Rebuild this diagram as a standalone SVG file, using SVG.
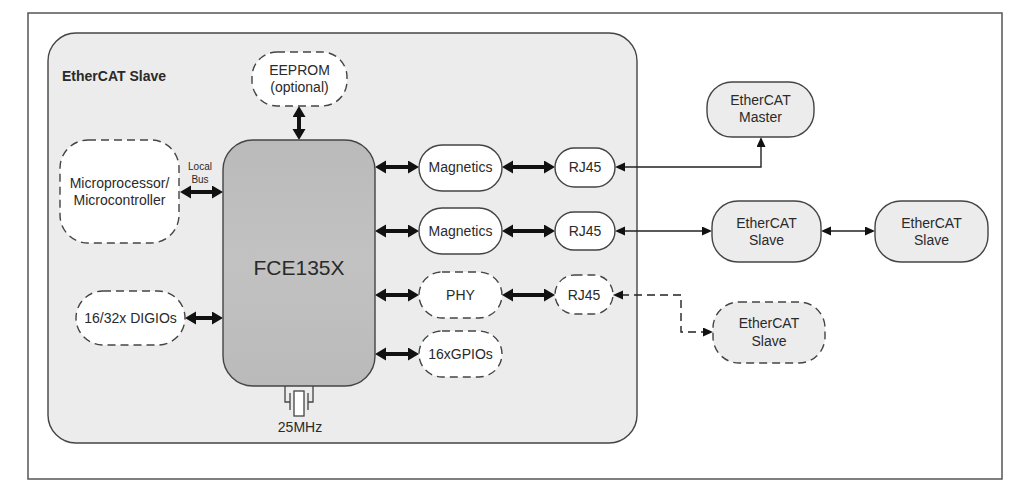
<svg xmlns="http://www.w3.org/2000/svg" width="1030" height="493" viewBox="0 0 1030 493">
<defs>
<style>
text{font-family:"Liberation Sans",Arial,sans-serif;fill:#2a2a2a;text-anchor:middle;font-size:14px}
.solid{fill:#fff;stroke:#444;stroke-width:1.4}
.dash{fill:#fff;stroke:#444;stroke-width:1.4;stroke-dasharray:8 5}
.ext{fill:#ececec;stroke:#444;stroke-width:1.4}
.thick{stroke:#111;stroke-width:4;fill:none;marker-start:url(#tk);marker-end:url(#tk)}
.thin{stroke:#222;stroke-width:1.4;fill:none;marker-start:url(#tn);marker-end:url(#tn)}
.thinD{stroke:#222;stroke-width:1.4;fill:none;stroke-dasharray:8 5;marker-start:url(#tn);marker-end:url(#tn)}
</style>
<marker id="tk" markerUnits="userSpaceOnUse" markerWidth="12" markerHeight="14" refX="3" refY="6.5" orient="auto-start-reverse" viewBox="0 0 12 14"><path d="M0,0 L11,6.5 L0,13 z" fill="#111"/></marker>
<marker id="tn" markerUnits="userSpaceOnUse" markerWidth="12" markerHeight="10" refX="2" refY="4.5" orient="auto-start-reverse" viewBox="0 0 12 10"><path d="M0,0 L10,4.5 L0,9 z" fill="#111"/></marker>
<linearGradient id="fceg" x1="0" y1="0" x2="0" y2="1"><stop offset="0" stop-color="#bababa"/><stop offset="0.5" stop-color="#c2c2c2"/><stop offset="1" stop-color="#bababa"/></linearGradient>
</defs>
<rect x="0" y="0" width="1030" height="493" fill="#fff"/>
<rect id="frame" x="28" y="13" width="974" height="466" fill="#fff" stroke="#555" stroke-width="1.5"/>
<g id="slave-box">
<rect x="48" y="33" width="589" height="410" rx="28" fill="#ececec" stroke="#444" stroke-width="1.4"/>
<text x="62" y="81" style="text-anchor:start;font-weight:bold">EtherCAT Slave</text>
</g>
<g id="connectors">
<line class="thick" x1="299" y1="114" x2="299" y2="132"/>
<line class="thick" x1="188" y1="192" x2="215" y2="192"/>
<line class="thick" x1="193" y1="318" x2="215" y2="318"/>
<line class="thick" x1="383" y1="167" x2="411" y2="167"/>
<line class="thick" x1="510" y1="167" x2="547" y2="167"/>
<line class="thick" x1="383" y1="231" x2="411" y2="231"/>
<line class="thick" x1="510" y1="231" x2="547" y2="231"/>
<line class="thick" x1="383" y1="295" x2="411" y2="295"/>
<line class="thick" x1="510" y1="295" x2="547" y2="295"/>
<line class="thick" x1="383" y1="354" x2="411" y2="354"/>
<path class="thin" d="M623,167 H761 V145"/>
<line class="thin" x1="623" y1="231" x2="704" y2="231"/>
<line class="thin" x1="829" y1="231" x2="867" y2="231"/>
<path class="thinD" d="M621,295 H681 V332 H705"/>
</g>
<g id="eeprom"><rect class="dash" x="252" y="52" width="95" height="54" rx="25"/><text x="299.5" y="75">EEPROM</text><text x="299.5" y="92">(optional)</text></g>
<g id="micro"><rect class="dash" x="60" y="140" width="119" height="103" rx="28"/><text x="119.5" y="188">Microprocessor/</text><text x="119.5" y="205">Microcontroller</text></g>
<g id="localbus"><text x="200" y="170" style="font-size:10px">Local</text><text x="200" y="183" style="font-size:10px">Bus</text></g>
<g id="digios"><rect class="dash" x="76" y="291" width="109" height="54" rx="27"/><text x="130.5" y="323">16/32x DIGIOs</text></g>
<g id="fce">
<rect x="223" y="140" width="152" height="246" rx="30" fill="url(#fceg)" stroke="#444" stroke-width="1.4"/>
<text x="299" y="275" style="font-size:21px">FCE135X</text>
</g>
<g id="crystal" fill="none" stroke="#444" stroke-width="1.3">
<path d="M285,386 V402 H290 M290,393 V410 M313,386 V402 H308 M308,393 V410"/>
<rect x="294" y="391" width="10" height="25" fill="#fff"/>
<text x="300" y="432" stroke="none">25MHz</text>
</g>
<g id="mag1"><rect class="solid" x="419" y="145" width="83" height="46" rx="23"/><text x="460.5" y="172">Magnetics</text></g>
<g id="mag2"><rect class="solid" x="419" y="208" width="83" height="46" rx="23"/><text x="460.5" y="236">Magnetics</text></g>
<g id="phy"><rect class="dash" x="419" y="272" width="83" height="46" rx="23"/><text x="460.5" y="300">PHY</text></g>
<g id="gpios"><rect class="dash" x="419" y="331" width="83" height="46" rx="23"/><text x="460.5" y="359">16xGPIOs</text></g>
<g id="rj45a"><rect class="solid" x="555" y="148" width="60" height="39" rx="19.5"/><text x="585" y="172">RJ45</text></g>
<g id="rj45b"><rect class="solid" x="555" y="212" width="60" height="38" rx="19"/><text x="585" y="236">RJ45</text></g>
<g id="rj45c"><rect class="dash" x="555" y="275" width="58" height="39" rx="19.5"/><text x="584" y="300">RJ45</text></g>
<g id="master"><rect class="ext" x="707" y="82" width="107" height="55" rx="25"/><text x="760.5" y="105">EtherCAT</text><text x="760.5" y="122">Master</text></g>
<g id="slave1"><rect class="ext" x="712" y="201" width="109" height="61" rx="26"/><text x="766.5" y="228">EtherCAT</text><text x="766.5" y="245">Slave</text></g>
<g id="slave2"><rect class="ext" x="875" y="201" width="113" height="61" rx="26"/><text x="931.5" y="228">EtherCAT</text><text x="931.5" y="245">Slave</text></g>
<g id="slave3"><rect class="dash" style="fill:#ececec" x="713" y="302" width="112" height="61" rx="26"/><text x="769" y="328">EtherCAT</text><text x="769" y="346">Slave</text></g>
</svg>
